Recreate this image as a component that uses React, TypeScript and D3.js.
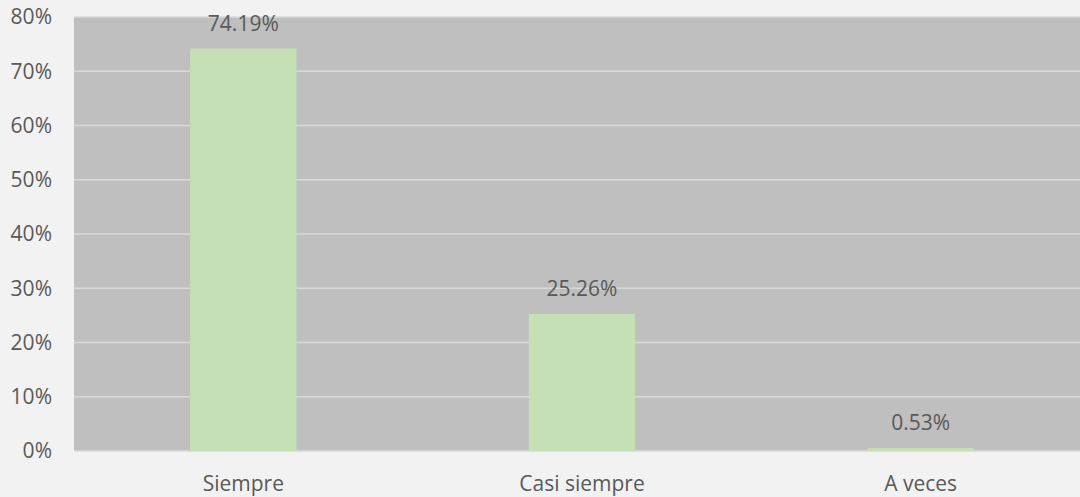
import React from "react";
import * as d3 from "d3";

const categories = ["Siempre", "Casi siempre", "A veces"];
const values = [74.19, 25.26, 0.53];
const yTicks = [0, 10, 20, 30, 40, 50, 60, 70, 80];

export default function App() {
  const W = 1080, H = 497;
  const left = 74, right = 1090, top = 17, bottom = 451;
  const x = d3.scaleBand<string>().domain(categories).range([left, right]).paddingInner(0.686).paddingOuter(0.343);
  const y = d3.scaleLinear().domain([0, 80]).range([bottom, top]);
  const font = "'Open Sans', 'Noto Sans', sans-serif";
  const fs = 21;
  const textColor = "#595959";
  return (
    <div style={{ position: "fixed", left: 0, top: 0, width: W, height: H, background: "#f2f2f2" }}>
      <svg width={W} height={H} style={{ display: "block" }}>
        <rect x={0} y={0} width={W} height={H} fill="#f2f2f2" />
        <rect x={left} y={top} width={right - left} height={bottom - top} fill="#bfbfbf" />
        {yTicks.map((t) => (
          <g key={t}>
            <line x1={left} x2={right} y1={y(t)} y2={y(t)} stroke="#d9d9d9" strokeWidth={1.5} />
            <text x={52} y={y(t)} dy="0.35em" textAnchor="end" fontFamily={font} fontSize={fs} fill={textColor}>
              {t}%
            </text>
          </g>
        ))}
        {categories.map((c, i) => (
          <g key={c}>
            <rect x={x(c)!} y={y(values[i])} width={x.bandwidth()} height={bottom - y(values[i])} fill="#c5e0b4" />
            <text x={x(c)! + x.bandwidth() / 2} y={y(values[i]) - 18} textAnchor="middle" fontFamily={font} fontSize={fs} fill={textColor}>
              {values[i].toFixed(2)}%
            </text>
            <text x={x(c)! + x.bandwidth() / 2} y={491} textAnchor="middle" fontFamily={font} fontSize={fs} fill={textColor}>
              {c}
            </text>
          </g>
        ))}
      </svg>
    </div>
  );
}
